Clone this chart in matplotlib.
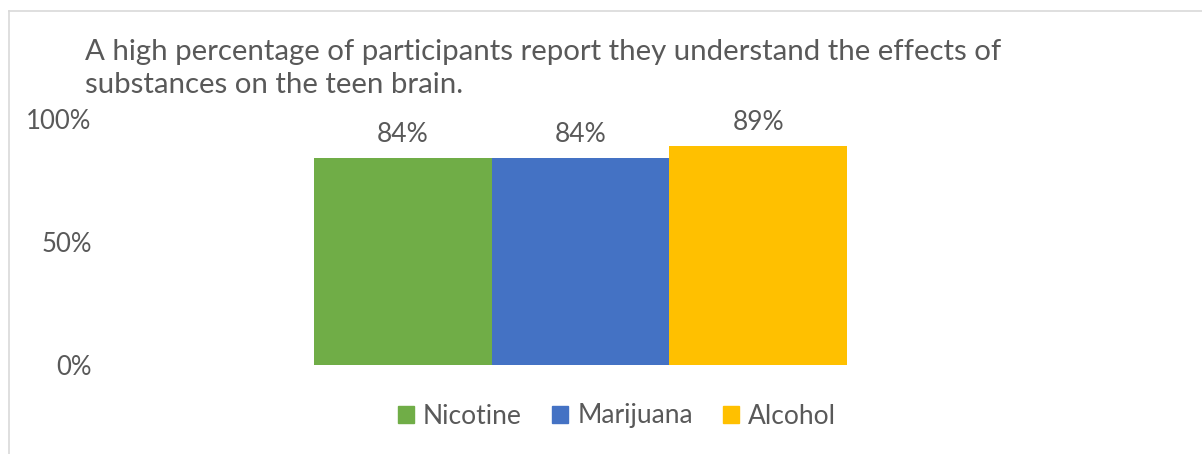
import matplotlib
matplotlib.use("Agg")
import matplotlib.pyplot as plt
from matplotlib.lines import Line2D
from matplotlib.ticker import PercentFormatter

categories = ["Nicotine", "Marijuana", "Alcohol"]
values = [84, 84, 89]
colors = ["#70AD47", "#4472C4", "#FFC000"]
yticks = [0, 50, 100]
title = ("A high percentage of participants report they understand the effects of\n"
         "substances on the teen brain.")

plt.rcParams["font.family"] = ["Lato", "DejaVu Sans"]
text_color = "#595959"

W, H = 1202, 454
fig = plt.figure(figsize=(W / 100, H / 100), dpi=100)

# plot area in pixel coordinates
left_px, right_px = 100, 1061
top_px, bottom_px = 119, 365
bar_px = 177.7
ax = fig.add_axes([left_px / W, 1 - bottom_px / H,
                   (right_px - left_px) / W, (bottom_px - top_px) / H])

x = list(range(len(categories)))
bars = ax.bar(x, values, width=1.0, color=colors, label=categories)
for b, v in zip(bars, values):
    ax.annotate(f"{v}%", (b.get_x() + b.get_width() / 2, v),
                xytext=(0, 8), textcoords="offset points",
                ha="center", va="bottom", fontsize=19, color=text_color)

span_units = (right_px - left_px) / bar_px
ax.set_xlim(1 - span_units / 2, 1 + span_units / 2)
ax.set_ylim(0, 100)
ax.set_yticks(yticks)
ax.yaxis.set_major_formatter(PercentFormatter(decimals=0))
ax.tick_params(axis="y", length=0, pad=6, labelsize=18.5, labelcolor=text_color)
ax.tick_params(axis="x", length=0, labelbottom=False)
for s in ax.spines.values():
    s.set_visible(False)

fig.text(85 / W, 1 - 39 / H, title, ha="left", va="top", fontsize=21.2,
         color=text_color, linespacing=1.35)

handles = [plt.Rectangle((0, 0), 1, 1, color=c) for c in colors]
fig.legend(handles, categories, loc="center", bbox_to_anchor=(617 / W, 1 - 416 / H),
           ncol=3, frameon=False, fontsize=19, labelcolor=text_color,
           handlelength=0.6, handleheight=0.6, handletextpad=0.35, columnspacing=1.15,
           borderpad=0, borderaxespad=0)

# chart frame
fig.add_artist(Line2D([9 / W, 1], [1 - 11 / H, 1 - 11 / H], color="#D9D9D9", lw=1.2))
fig.add_artist(Line2D([9 / W, 9 / W], [0, 1 - 11 / H], color="#D9D9D9", lw=1.2))

fig.savefig("out.png", dpi=100, facecolor="white")
